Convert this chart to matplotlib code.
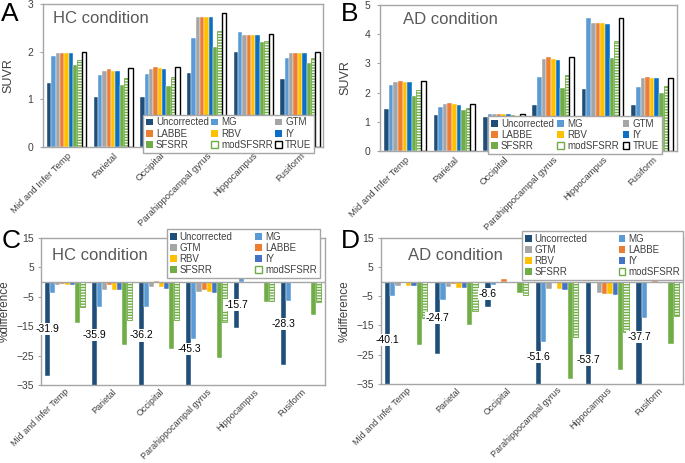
import matplotlib
matplotlib.use('Agg')
import matplotlib.pyplot as plt
from matplotlib.patches import Patch
import numpy as np

plt.rcParams['font.family'] = ['Liberation Sans', 'DejaVu Sans']
plt.rcParams['hatch.linewidth'] = 1.0

regions = ['Mid and Infer Temp', 'Parietal', 'Occipital',
           'Parahippocampal gyrus', 'Hippocampus', 'Fusiform']
methods = ['Uncorrected', 'MG', 'GTM', 'LABBE', 'RBV', 'IY', 'SFSRR', 'modSFSRR', 'TRUE']

# SUVR, one row per method (order of `methods`), one value per region
hc_suvr = [
    [1.35, 1.05, 1.06, 1.55, 2.00, 1.43],
    [1.92, 1.52, 1.53, 2.29, 2.42, 1.87],
    [1.97, 1.60, 1.64, 2.74, 2.36, 1.98],
    [1.98, 1.63, 1.67, 2.74, 2.36, 1.98],
    [1.97, 1.60, 1.65, 2.74, 2.36, 1.98],
    [1.97, 1.60, 1.63, 2.72, 2.36, 1.98],
    [1.72, 1.31, 1.29, 2.11, 2.21, 1.76],
    [1.83, 1.44, 1.46, 2.44, 2.22, 1.87],
    [1.99, 1.66, 1.67, 2.82, 2.37, 1.99],
]
ad_suvr = [
    [1.43, 1.22, 1.16, 1.56, 2.11, 1.56],
    [2.27, 1.51, 1.26, 2.55, 4.55, 2.19],
    [2.36, 1.60, 1.26, 3.14, 4.37, 2.51],
    [2.40, 1.63, 1.28, 3.21, 4.37, 2.53],
    [2.36, 1.60, 1.26, 3.14, 4.37, 2.51],
    [2.36, 1.58, 1.26, 3.13, 4.35, 2.51],
    [1.88, 1.39, 1.22, 2.15, 3.19, 1.97],
    [2.10, 1.46, 1.21, 2.62, 3.76, 2.22],
    [2.40, 1.61, 1.26, 3.22, 4.55, 2.51],
]

# % difference vs TRUE, methods without TRUE
hc_diff = [
    [-31.9, -35.9, -36.2, -45.3, -15.7, -28.3],
    [-3.8, -8.3, -8.6, -19.3, 1.5, -6.5],
    [-1.0, -2.7, -1.8, -3.2, -0.3, -0.3],
    [-0.5, -1.0, 0.3, -2.8, -0.3, -0.3],
    [-1.0, -2.8, -1.8, -3.3, -0.3, -0.3],
    [-1.0, -2.8, -2.3, -3.6, -0.3, -0.3],
    [-14.0, -21.2, -22.7, -25.6, -6.8, -11.3],
    [-8.6, -12.9, -13.0, -13.6, -6.4, -6.6],
]
ad_diff = [
    [-40.1, -24.7, -8.6, -51.6, -53.7, -37.7],
    [-4.9, -6.4, -1.2, -20.8, -0.3, -12.3],
    [-1.5, -1.8, 0.0, -2.5, -3.9, -0.3],
    [-0.3, -0.8, 1.0, -0.5, -4.2, 0.5],
    [-1.5, -2.0, -0.3, -2.6, -4.3, -0.3],
    [-1.5, -2.3, -0.5, -3.0, -4.6, -0.3],
    [-21.8, -15.0, -3.9, -33.5, -30.4, -21.5],
    [-12.6, -10.0, -4.7, -19.0, -17.2, -11.8],
]

GREEN = '#70AD47'
colors_top = ['#1F4E79', '#5B9BD5', '#A5A5A5', '#ED7D31', '#FFC000', '#0A70C6', GREEN]
colors_bot = ['#1F4E79', '#5B9BD5', '#A5A5A5', '#ED7D31', '#FFC000', '#4472C4', GREEN]
GRID = '#A6A6A6'
TXT = '#404040'


def bar_style(name, colors, i):
    if name == 'modSFSRR':
        return dict(facecolor='white', edgecolor=GREEN, hatch='------', linewidth=0.6)
    if name == 'TRUE':
        return dict(facecolor='white', edgecolor='black', linewidth=1.0)
    return dict(facecolor=colors[i], edgecolor='white', linewidth=0.3)


def legend_handle(name, colors, i):
    if name == 'modSFSRR':
        return Patch(facecolor='white', edgecolor=GREEN, linewidth=1.0)
    if name == 'TRUE':
        return Patch(facecolor='white', edgecolor='black', linewidth=1.0)
    return Patch(facecolor=colors[i], edgecolor='none')


def draw_panel(ax, data, names, colors, group_width, ypad, xfont, xpad):
    x = np.arange(len(regions))
    n = len(names)
    w = group_width / n
    for i, name in enumerate(names):
        ax.bar(x - group_width / 2 + w * (i + 0.5), data[i], w, **bar_style(name, colors, i), zorder=2)
    ax.set_xlim(-0.5, len(regions) - 0.5)
    ax.set_xticks(x)
    ax.set_xticklabels(regions, rotation=45, ha='right', rotation_mode='anchor',
                       fontsize=xfont, color=TXT)
    ax.tick_params(axis='x', length=0, pad=xpad)
    ax.tick_params(axis='y', length=2.2, color=GRID, labelsize=7.5, labelcolor=TXT, pad=ypad)
    for s in ax.spines.values():
        s.set_color(GRID)
        s.set_linewidth(1.0)


def add_legend(ax, names, colors, ncol, bbox):
    n = len(names)
    rows = int(np.ceil(n / ncol))
    order = [r * ncol + c for c in range(ncol) for r in range(rows) if r * ncol + c < n]
    handles = [legend_handle(names[k], colors, k) for k in order]
    labels = [names[k] for k in order]
    leg = ax.legend(handles, labels, ncol=ncol, loc='lower left', bbox_to_anchor=bbox,
                    mode='expand', fontsize=7, handlelength=0.7, handleheight=0.7,
                    handletextpad=0.3, columnspacing=0.5, borderpad=0.3,
                    labelspacing=0.12, fancybox=False, framealpha=1, borderaxespad=0)
    leg.get_frame().set_edgecolor(GRID)
    leg.get_frame().set_linewidth(1.0)
    for t in leg.get_texts():
        t.set_color(TXT)
    leg.set_zorder(5)


fig = plt.figure(figsize=(6.85, 4.63), dpi=100)

axA = fig.add_axes([0.063, 0.6825, 0.409, 0.3085])
axB = fig.add_axes([0.555, 0.674, 0.433, 0.315])
axC = fig.add_axes([0.060, 0.168, 0.414, 0.318])
axD = fig.add_axes([0.556, 0.171, 0.441, 0.315])

# top row: SUVR
for ax, data, ymax, title, tx in [(axA, hc_suvr, 3, 'HC condition', 0.036),
                                  (axB, ad_suvr, 5, 'AD condition', 0.077)]:
    draw_panel(ax, data, methods, colors_top, 0.84, 5, 6.8, 3)
    ax.set_ylim(0, ymax)
    ax.set_yticks(range(0, ymax + 1))
    ax.set_ylabel('SUVR', fontsize=9, color=TXT, labelpad=9)
    ax.text(tx, 0.95, title, transform=ax.transAxes, fontsize=12, color='#595959',
            va='top', ha='left')

add_legend(axA, methods, colors_top, 3, (0.357, -0.04, 0.611, 0.215))
add_legend(axB, methods, colors_top, 3, (0.364, -0.02, 0.585, 0.205))

# bottom row: % difference
diff_names = methods[:-1]
gw = 0.85
for ax, data, title, tx in [(axC, hc_diff, 'HC condition', 0.04),
                            (axD, ad_diff, 'AD condition', 0.09)]:
    draw_panel(ax, data, diff_names, colors_bot, gw, 3, 6.5, 1.5)
    ax.set_ylim(-35, 15)
    ax.set_yticks([15, 5, -5, -15, -25, -35])
    ax.axhline(0, color=GRID, linewidth=1.0, zorder=3)
    ax.set_ylabel('%difference', fontsize=8.5, color=TXT, labelpad=4)
    ax.text(tx, 0.93, title, transform=ax.transAxes,
            fontsize=12, color='#595959', va='top', ha='left')
    w = gw / len(diff_names)
    x = np.arange(len(regions))
    for xi, v in zip(x, data[0]):
        ax.text(xi - gw / 2 + w * 0.5, v / 2, f'{v:.1f}', ha='center', va='center',
                fontsize=7.5, color='black', zorder=4,
                bbox=dict(facecolor='white', edgecolor='none', pad=0.8))

add_legend(axC, diff_names, colors_bot, 2, (0.444, 0.728, 0.538, 0.272))
add_legend(axD, diff_names, colors_bot, 2, (0.467, 0.712, 0.533, 0.288))

for lbl, xp, yp in [('A', 0.002, 0.995), ('B', 0.497, 0.995), ('C', 0.002, 0.505), ('D', 0.497, 0.505)]:
    fig.text(xp, yp, lbl, fontsize=19, va='top', ha='left', color='black')

fig.savefig('out.png', dpi=100)
